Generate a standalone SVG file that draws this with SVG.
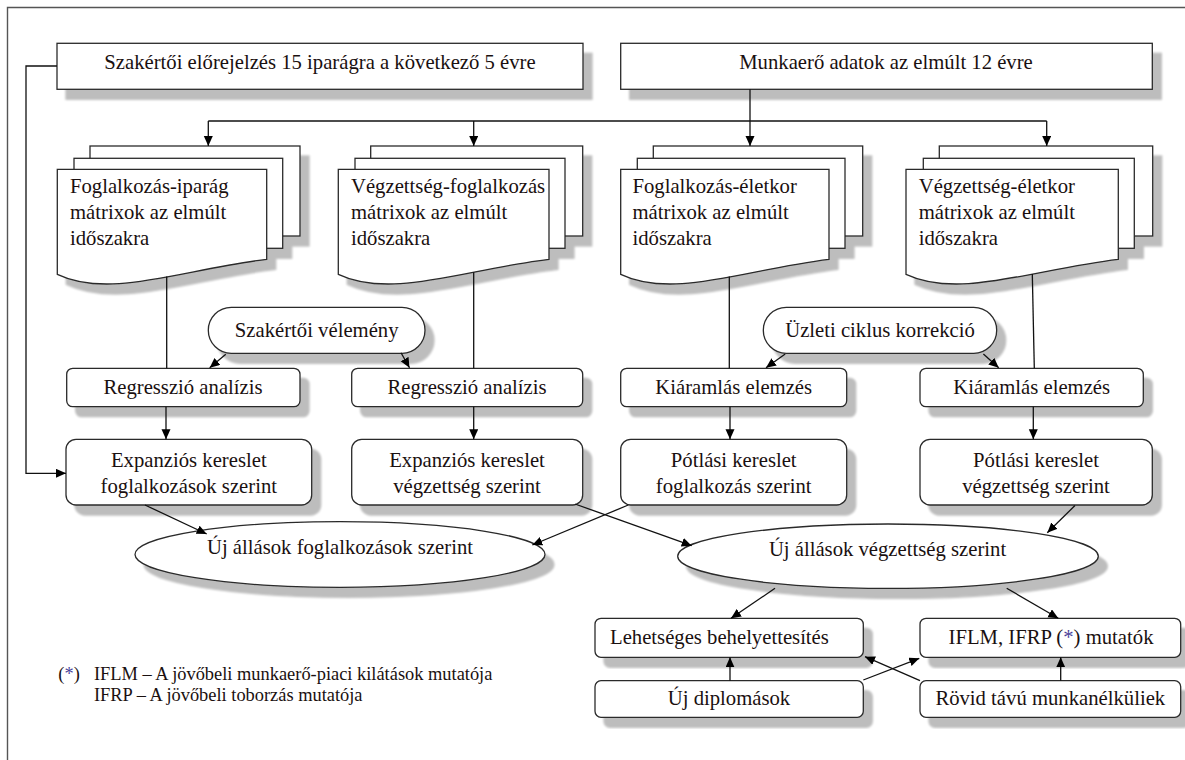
<svg xmlns="http://www.w3.org/2000/svg" width="1185" height="760" viewBox="0 0 1185 760">
<defs>
<style>
.t{font-family:"Liberation Serif","Times New Roman",serif;font-size:20.7px;fill:#1a1010}
.f{font-family:"Liberation Serif","Times New Roman",serif;font-size:18.4px;fill:#1a1010}
.m{text-anchor:middle}
.b{fill:#fff;stroke:#2a2a2a;stroke-width:1.3}
.c{fill:none;stroke:#111;stroke-width:1.3}
.a{marker-end:url(#ah)}
.st{fill:#4a3f9a}
</style>
<filter id="sh" x="-5%" y="-10%" width="115%" height="140%">
<feGaussianBlur in="SourceAlpha" stdDeviation="1.2"/>
<feOffset dx="9" dy="10" result="o"/>
<feComponentTransfer><feFuncA type="linear" slope="0.26"/></feComponentTransfer>
<feMerge><feMergeNode/><feMergeNode in="SourceGraphic"/></feMerge>
</filter>
<marker id="ah" markerUnits="userSpaceOnUse" markerWidth="11" markerHeight="10" refX="10" refY="4.5" orient="auto">
<path d="M0,0 L10,4.5 L0,9 Z" fill="#000"/>
</marker>
</defs>
<rect width="1185" height="760" fill="#fff"/>
<path d="M7.5,760 V7.5 H1185" fill="none" stroke="#555" stroke-width="1.4"/>

<g id="n-forecast">
<rect class="b" filter="url(#sh)" x="57" y="43.3" width="526" height="46"/>
<text class="t m" x="320" y="69">Szakértői előrejelzés 15 iparágra a következő 5 évre</text>
</g>
<g id="n-labourdata">
<rect class="b" filter="url(#sh)" x="620.7" y="43.3" width="531.6" height="46"/>
<text class="t m" x="886" y="69">Munkaerő adatok az elmúlt 12 évre</text>
</g>

<g id="n-doc1">
<g filter="url(#sh)">
<rect class="b" x="90" y="146" width="210" height="90"/>
<rect class="b" x="74" y="158.3" width="208.7" height="90"/>
<path class="b" d="M57.3,169.3 H266.7 V259.3 C182.9,269.3 109.7,299.3 57.3,274.3 Z"/>
</g>
<text class="t" x="70" y="193">Foglalkozás-iparág</text>
<text class="t" x="70" y="219">mátrixok az elmúlt</text>
<text class="t" x="70" y="245">időszakra</text>
</g>
<g id="n-doc2">
<g filter="url(#sh)">
<rect class="b" x="370.7" y="146" width="212" height="90"/>
<rect class="b" x="355" y="158.3" width="210" height="90"/>
<path class="b" d="M338.3,169.3 H549 V259.3 C464.7,269.3 391,299.3 338.3,274.3 Z"/>
</g>
<text class="t" x="351" y="193">Végzettség-foglalkozás</text>
<text class="t" x="351" y="219">mátrixok az elmúlt</text>
<text class="t" x="351" y="245">időszakra</text>
</g>
<g id="n-doc3">
<g filter="url(#sh)">
<rect class="b" x="653.3" y="146" width="209.4" height="90"/>
<rect class="b" x="637.3" y="158.3" width="207.7" height="90"/>
<path class="b" d="M620.7,169.3 H829 V259.3 C745.7,269.3 672.8,299.3 620.7,274.3 Z"/>
</g>
<text class="t" x="632.5" y="193">Foglalkozás-életkor</text>
<text class="t" x="632.5" y="219">mátrixok az elmúlt</text>
<text class="t" x="632.5" y="245">időszakra</text>
</g>
<g id="n-doc4">
<g filter="url(#sh)">
<rect class="b" x="939.3" y="146" width="213.4" height="90"/>
<rect class="b" x="923.3" y="158.3" width="211" height="90"/>
<path class="b" d="M906,169.3 H1118.3 V259.3 C1033.4,269.3 959.1,299.3 906,274.3 Z"/>
</g>
<text class="t" x="918.7" y="193">Végzettség-életkor</text>
<text class="t" x="918.7" y="219">mátrixok az elmúlt</text>
<text class="t" x="918.7" y="245">időszakra</text>
</g>

<g id="n-expert">
<rect class="b" filter="url(#sh)" x="208.3" y="307.3" width="216.7" height="46" rx="23"/>
<text class="t m" x="316.7" y="337">Szakértői vélemény</text>
</g>
<g id="n-cycle">
<rect class="b" filter="url(#sh)" x="763.3" y="307.3" width="233.4" height="46" rx="23"/>
<text class="t m" x="880" y="337">Üzleti ciklus korrekció</text>
</g>

<g id="n-reg1">
<rect class="b" filter="url(#sh)" x="66.7" y="368.3" width="233.3" height="38.4" rx="6"/>
<text class="t m" x="183" y="394">Regresszió analízis</text>
</g>
<g id="n-reg2">
<rect class="b" filter="url(#sh)" x="351.7" y="368.3" width="231" height="38.4" rx="6"/>
<text class="t m" x="467" y="394">Regresszió analízis</text>
</g>
<g id="n-out1">
<rect class="b" filter="url(#sh)" x="620.7" y="368.3" width="226" height="38.4" rx="6"/>
<text class="t m" x="733.7" y="394">Kiáramlás elemzés</text>
</g>
<g id="n-out2">
<rect class="b" filter="url(#sh)" x="920" y="368.3" width="223.3" height="38.4" rx="6"/>
<text class="t m" x="1031.7" y="394">Kiáramlás elemzés</text>
</g>

<g id="n-exp1">
<rect class="b" filter="url(#sh)" x="66" y="439.3" width="245.7" height="65.7" rx="10"/>
<text class="t m" x="188.8" y="467">Expanziós kereslet</text>
<text class="t m" x="188.8" y="493">foglalkozások szerint</text>
</g>
<g id="n-exp2">
<rect class="b" filter="url(#sh)" x="351.7" y="439.3" width="231" height="65.7" rx="10"/>
<text class="t m" x="467" y="467">Expanziós kereslet</text>
<text class="t m" x="467" y="493">végzettség szerint</text>
</g>
<g id="n-rep1">
<rect class="b" filter="url(#sh)" x="620.7" y="439.3" width="226" height="65.7" rx="10"/>
<text class="t m" x="733.7" y="467">Pótlási kereslet</text>
<text class="t m" x="733.7" y="493">foglalkozás szerint</text>
</g>
<g id="n-rep2">
<rect class="b" filter="url(#sh)" x="920" y="439.3" width="232.3" height="65.7" rx="10"/>
<text class="t m" x="1036" y="467">Pótlási kereslet</text>
<text class="t m" x="1036" y="493">végzettség szerint</text>
</g>

<g id="n-jobs-occ">
<ellipse class="b" filter="url(#sh)" cx="340" cy="554.5" rx="205" ry="32.8"/>
<text class="t m" x="340" y="554">Új állások foglalkozások szerint</text>
</g>
<g id="n-jobs-edu">
<ellipse class="b" filter="url(#sh)" cx="888" cy="556.2" rx="210.3" ry="32.2"/>
<text class="t m" x="887.5" y="556">Új állások végzettség szerint</text>
</g>

<g id="n-subst">
<rect class="b" filter="url(#sh)" x="595" y="618.3" width="268.3" height="39" rx="6"/>
<text class="t" x="610" y="644.3">Lehetséges behelyettesítés</text>
</g>
<g id="n-ind">
<rect class="b" filter="url(#sh)" x="920" y="618.3" width="260.7" height="39" rx="6"/>
<text class="t m" x="1051" y="644.3">IFLM, IFRP (<tspan class="st">*</tspan>) mutatók</text>
</g>
<g id="n-grad">
<rect class="b" filter="url(#sh)" x="595" y="680.7" width="268.3" height="36.6" rx="6"/>
<text class="t m" x="729" y="705">Új diplomások</text>
</g>
<g id="n-unemp">
<rect class="b" filter="url(#sh)" x="920" y="680.7" width="260.7" height="36.6" rx="6"/>
<text class="t m" x="1050.3" y="705">Rövid távú munkanélküliek</text>
</g>

<g id="footnote">
<text class="f" x="58.3" y="680">(<tspan class="st">*</tspan>)</text>
<text class="f" x="94" y="680">IFLM – A jövőbeli munkaerő-piaci kilátások mutatója</text>
<text class="f" x="94" y="700.5">IFRP – A jövőbeli toborzás mutatója</text>
</g>

<g id="connectors">
<path class="c a" d="M57,66 H26 V473.3 H66"/>
<path class="c" d="M208.3,121 H1046.7"/>
<path class="c a" d="M208.3,121 V146"/>
<path class="c a" d="M473.7,121 V146"/>
<path class="c a" d="M750,89.3 V146"/>
<path class="c a" d="M1046.7,121 V146"/>
<path class="c" d="M166.7,276.5 V368.3"/>
<path class="c" d="M473.7,272.3 V368.3"/>
<path class="c" d="M729.3,276.5 V368.3"/>
<path class="c" d="M1032.3,274 L1034.3,368.3"/>
<path class="c a" d="M225.8,354.3 L209.7,367.8"/>
<path class="c a" d="M401,352.7 L409.5,367.8"/>
<path class="c a" d="M785.2,354 L766,367.8"/>
<path class="c a" d="M983.4,354 L998.7,367.8"/>
<path class="c a" d="M166,406.7 V439.3"/>
<path class="c a" d="M473.7,406.7 V439.3"/>
<path class="c a" d="M730,406.7 V439.3"/>
<path class="c a" d="M1033.3,406.7 V439.3"/>
<path class="c a" d="M145,505 L206.7,534"/>
<path class="c a" d="M575,504 L691.7,545.7"/>
<path class="c a" d="M628.3,505 L532.3,545"/>
<path class="c a" d="M1075,505.5 L1047.3,532.7"/>
<path class="c a" d="M775,588.3 L731,618.3"/>
<path class="c a" d="M1006.7,588.3 L1058.3,618.3"/>
<path class="c a" d="M730,680.7 V657.3"/>
<path class="c a" d="M1060.7,680.7 V657.3"/>
<path class="c a" d="M863.3,680 L919.3,658.3"/>
<path class="c a" d="M920,680.7 L865,656.7"/>
</g>
</svg>
